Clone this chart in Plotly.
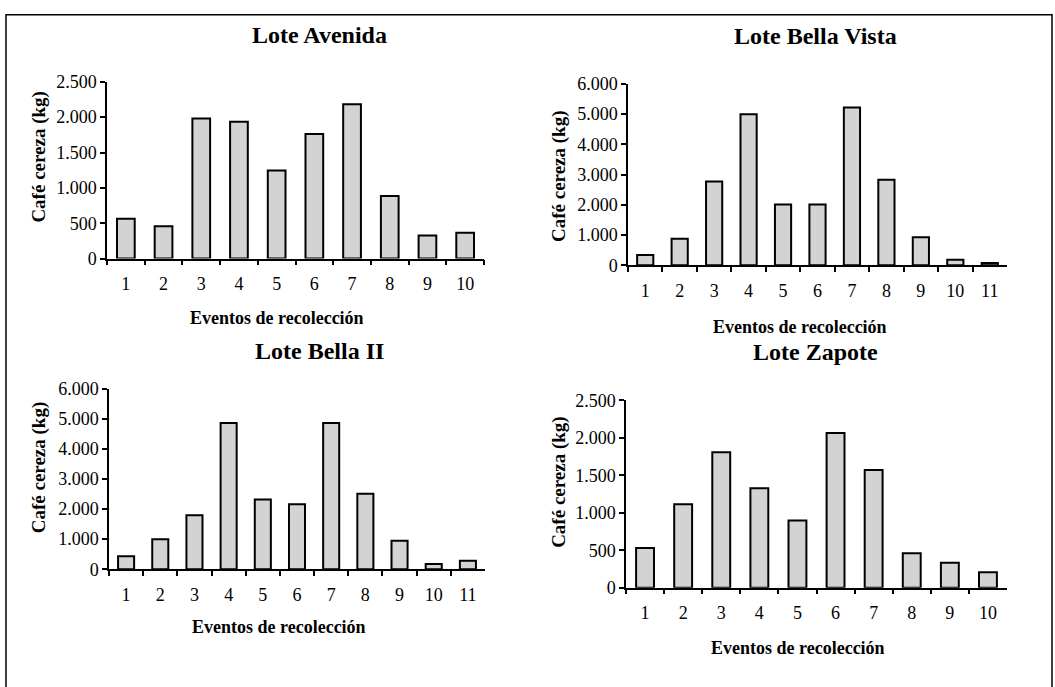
import plotly.graph_objects as go

# ---- data ----
avenida_events = [str(i) for i in range(1, 11)]
avenida_kg = [563, 458, 1983, 1937, 1245, 1763, 2184, 884, 325, 366]

bellavista_events = [str(i) for i in range(1, 12)]
bellavista_kg = [343, 879, 2775, 4993, 2014, 2014, 5218, 2829, 932, 182, 75]

bella2_events = [str(i) for i in range(1, 12)]
bella2_kg = [429, 998, 1792, 4862, 2318, 2157, 4862, 2512, 945, 172, 279]

zapote_events = [str(i) for i in range(1, 11)]
zapote_kg = [530, 1112, 1806, 1328, 897, 2065, 1569, 461, 332, 207]

titles = ["Lote Avenida", "Lote Bella Vista", "Lote Bella II", "Lote Zapote"]
x_title = "Eventos de recolección"
y_title = "Café cereza (kg)"
y_max = [2500, 6000, 6000, 2500]
y_step = [500, 1000, 1000, 500]

# ---- layout helpers (pixel geometry) ----
W, H = 1055, 687
FONT = "Liberation Serif"

def xd(px):
    return px / W

def yd(px):
    return 1 - px / H

# plot area boxes: (x0, x1, ytop, ybottom) in pixels
boxes = [
    (107, 484, 74, 256),
    (628, 1007, 76, 263),
    (109, 485, 390, 576),
    (626, 1007, 402, 595),
]
title_pos = [(319, 26), (815, 27), (319, 351), (815, 352)]
xtitle_pos = [(277, 317), (800, 326), (279, 636), (798, 657)]
ytitle_pos = [(39, 151), (559, 171), (39, 471), (559, 486)]

series = [
    (avenida_events, avenida_kg),
    (bellavista_events, bellavista_kg),
    (bella2_events, bella2_kg),
    (zapote_events, zapote_kg),
]

fig = go.Figure()
layout_axes = {}
annotations = []
for i, ((cats, vals), box) in enumerate(zip(series, boxes)):
    n = i + 1
    xa = "x" if n == 1 else f"x{n}"
    ya = "y" if n == 1 else f"y{n}"
    fig.add_trace(go.Bar(
        x=cats, y=vals, xaxis=xa, yaxis=ya,
        marker=dict(color="#d3d3d3", line=dict(color="black", width=2)),
        showlegend=False,
    ))
    x0, x1, yt, yb = box
    layout_axes[f"xaxis{'' if n == 1 else n}"] = dict(
        domain=[xd(x0), xd(x1)], anchor=ya, type="category",
        showline=True, linecolor="black", linewidth=1.5,
        ticks="outside", ticklen=5, tickwidth=1.5, tickcolor="black",
        tickson="boundaries", showgrid=False, zeroline=False,
        tickfont=dict(family=FONT, size=18, color="black"),
        ticklabelstandoff=8, fixedrange=True,
    )
    layout_axes[f"yaxis{'' if n == 1 else n}"] = dict(
        domain=[yd(yb), yd(yt)], anchor=xa,
        range=[0, y_max[i]], dtick=y_step[i], tick0=0,
        showline=True, linecolor="black", linewidth=1.5,
        ticks="outside", ticklen=5, tickwidth=1.5, tickcolor="black",
        showgrid=False, zeroline=False, separatethousands=True,
        tickfont=dict(family=FONT, size=18, color="black"),
        fixedrange=True,
    )
    tx, ty = title_pos[i]
    annotations.append(dict(
        text=f"<b>{titles[i]}</b>", x=xd(tx), y=yd(ty), xref="paper", yref="paper",
        xanchor="center", yanchor="middle", showarrow=False,
        font=dict(family=FONT, size=24, color="black"),
    ))
    ax, ay = xtitle_pos[i]
    annotations.append(dict(
        text=f"<b>{x_title}</b>", x=xd(ax), y=yd(ay), xref="paper", yref="paper",
        xanchor="center", yanchor="middle", showarrow=False,
        font=dict(family=FONT, size=18, color="black"),
    ))
    bx, by = ytitle_pos[i]
    annotations.append(dict(
        text=f"<b>{y_title}</b>", x=xd(bx), y=yd(by), xref="paper", yref="paper",
        xanchor="center", yanchor="middle", showarrow=False, textangle=-90,
        font=dict(family=FONT, size=19, color="black"),
    ))

fig.update_layout(
    width=W, height=H,
    margin=dict(l=0, r=0, t=0, b=0),
    paper_bgcolor="white", plot_bgcolor="white",
    separators=",.",
    bargap=0.53,
    annotations=annotations,
    shapes=[dict(type="rect", xref="paper", yref="paper",
                 x0=xd(6), x1=xd(1052), y0=yd(700), y1=yd(5),
                 line=dict(color="black", width=1.5), fillcolor="rgba(0,0,0,0)")],
    **layout_axes,
)

fig.write_html("out.html")
